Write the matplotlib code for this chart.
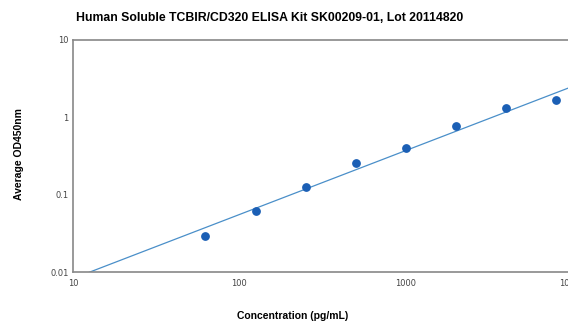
import matplotlib.pyplot as plt
import numpy as np

# data
conc = [62.5, 125, 250, 500, 1000, 2000, 4000, 8000]
od450 = [0.029, 0.061, 0.125, 0.255, 0.40, 0.77, 1.30, 1.66]
# power trendline y = a * x^b
fit_a = 0.00123
fit_b = 0.827
xticks = [10, 100, 1000, 10000]
xticklabels = ['10', '100', '1000', '10000']
yticks = [0.01, 0.1, 1, 10]
yticklabels = ['0.01', '0.1', '1', '10']

fig = plt.figure(figsize=(5.68, 3.22), dpi=100)
ax = fig.add_axes([0.1285, 0.155, 0.879, 0.721])

xs = np.logspace(0, 4, 200)
ax.plot(xs, fit_a * xs ** fit_b, color='#4a8fc9', linewidth=0.9, zorder=2)
ax.scatter(conc, od450, s=28, color='#1b5fb5', zorder=3)

ax.set_xscale('log')
ax.set_yscale('log')
ax.set_xlim(10, 10000)
ax.set_ylim(0.01, 10)
ax.minorticks_off()
ax.set_xticks(xticks)
ax.set_xticklabels(xticklabels)
ax.set_yticks(yticks)
ax.set_yticklabels(yticklabels)
ax.tick_params(length=0, labelsize=6, colors='#444444', pad=3)
ax.tick_params(axis='x', pad=5)
for s in ax.spines.values():
    s.set_color('#888888')
    s.set_linewidth(1.2)

fig.text(0.475, 0.945, 'Human Soluble TCBIR/CD320 ELISA Kit SK00209-01, Lot 20114820',
         ha='center', va='center', fontsize=8.8, fontweight='bold', family='Liberation Sans')
fig.text(0.034, 0.52, 'Average OD450nm', rotation=90, ha='center', va='center',
         fontsize=7.5, fontweight='bold', family='Liberation Sans')
fig.text(0.515, 0.018, 'Concentration (pg/mL)', ha='center', va='center',
         fontsize=7.5, fontweight='bold', family='Liberation Sans')

plt.savefig('out.png', dpi=100)
